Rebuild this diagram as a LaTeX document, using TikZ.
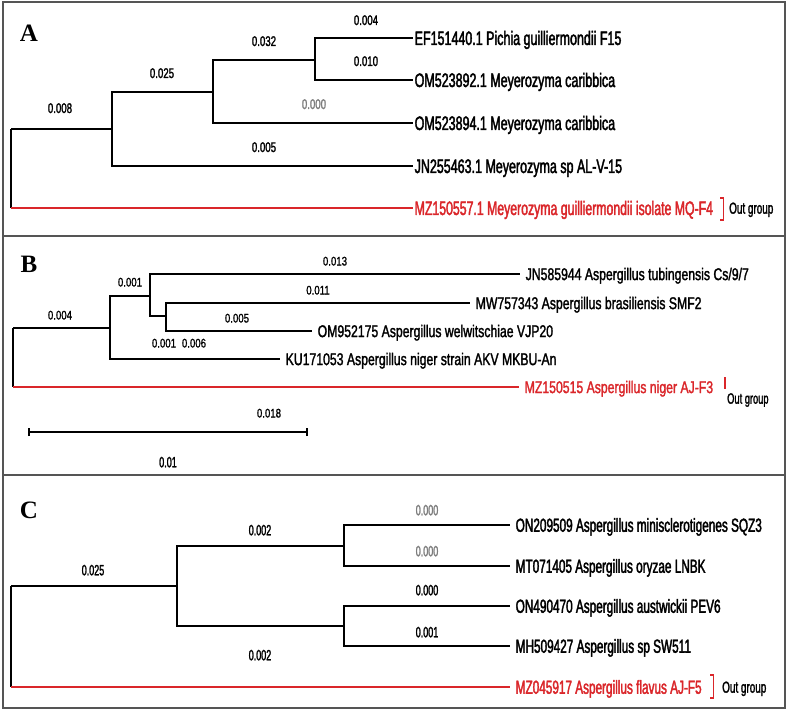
\documentclass[tikz,border=0pt]{standalone}
\usepackage{fontspec}
\setmainfont{Liberation Sans}
\newfontfamily\tfA[FakeStretch=0.64,FakeBold=2.0]{Liberation Sans}
\newfontfamily\tfAr[FakeStretch=0.63,FakeBold=2.0]{Liberation Sans}
\newfontfamily\tfB[FakeStretch=0.72,FakeBold=1.6]{Liberation Sans}
\newfontfamily\tfC[FakeStretch=0.62,FakeBold=2.0]{Liberation Sans}
\newfontfamily\bfA[FakeStretch=0.69,FakeBold=1.6]{Liberation Sans}
\newfontfamily\bfB[FakeStretch=0.77,FakeBold=1.2]{Liberation Sans}
\newfontfamily\bfC[FakeStretch=0.60,FakeBold=1.6]{Liberation Sans}
\newfontfamily\ogf[FakeStretch=0.62,FakeBold=1.6]{Liberation Sans}
\newfontfamily\serifpanel{Liberation Serif}
\definecolor{treered}{RGB}{218,38,42}
\definecolor{lblgray}{RGB}{125,125,125}
\definecolor{framegray}{RGB}{85,85,85}
\tikzset{
  frameline/.style={draw=framegray, line width=1.4pt},
  brA/.style={black, line width=1.8pt},
  brB/.style={black, line width=1.5pt},
  redA/.style={treered, line width=1.8pt},
  redB/.style={treered, line width=1.5pt},
  bracket/.style={treered, line width=1.2pt},
  plab/.style={font=\serifpanel\bfseries\fontsize{25}{25}\selectfont, inner sep=0pt},
  tipA/.style={anchor=west, inner ysep=0pt, inner xsep=1.5pt, font=\tfA\fontsize{19.5}{19.5}\selectfont, text height=14pt, text depth=0pt},
  tipAr/.style={tipA, font=\tfAr\fontsize{19.5}{19.5}\selectfont, text=treered},
  tipB/.style={anchor=west, inner ysep=0pt, inner xsep=5.5pt, font=\tfB\fontsize{17}{17}\selectfont, text height=12.2pt, text depth=0pt},
  tipC/.style={anchor=west, inner ysep=0pt, inner xsep=5.5pt, font=\tfC\fontsize{19}{19}\selectfont, text height=13.6pt, text depth=0pt},
  lbA/.style={inner sep=0pt, font=\bfA\fontsize{14}{14}\selectfont, text height=10pt, text depth=0pt},
  lbB/.style={inner sep=0pt, font=\bfB\fontsize{12.5}{12.5}\selectfont, text height=9pt, text depth=0pt},
  lbC/.style={inner sep=0pt, font=\bfC\fontsize{15}{15}\selectfont, text height=10.7pt, text depth=0pt},
  og/.style={anchor=west, inner sep=0pt, font=\ogf\fontsize{16}{16}\selectfont, text height=11.4pt, text depth=0pt},
}
\begin{document}
\begin{tikzpicture}[x=1pt,y=-1pt]
\useasboundingbox (0,0) rectangle (789,711);
% frame
\draw[frameline] (3,2) rectangle (785,708);
\draw[frameline] (3,236) -- (785,236);
\draw[frameline] (3,475) -- (785,475);

% ================= Panel A =================
\node[plab] (pA) at (29,33) {A};
\coordinate (a0) at (11,129);
\coordinate (aR) at (11,208);
\coordinate (a1) at (112,129);
\coordinate (a2) at (213,92);
\coordinate (a3) at (315,60);
\node[tipA] (tA1) at (413,38) {EF151440.1 Pichia guilliermondii F15};
\node[tipA] (tA2) at (413,80) {OM523892.1 Meyerozyma caribbica};
\node[tipA] (tA3) at (413,123) {OM523894.1 Meyerozyma caribbica};
\node[tipA] (tA4) at (413,166) {JN255463.1 Meyerozyma sp AL-V-15};
\node[tipAr] (tA5) at (413,208) {MZ150557.1 Meyerozyma guilliermondii isolate MQ-F4};
\draw[brA] (a0) -- (aR);
\draw[brA] (a0) -- (a1);
\draw[brA] (a1) |- (a2);
\draw[brA] (a1) |- (tA4.west);
\draw[brA] (a2) |- (a3);
\draw[brA] (a2) |- (tA3.west);
\draw[brA] (a3) |- (tA1.west);
\draw[brA] (a3) |- (tA2.west);
\draw[redA] (aR) -- (tA5.west);
\draw[bracket] (720,198) -- (723.5,198) -- (723.5,220) -- (720,220);
\node[og] (ogA) at (729,208) {Out group};
\node[lbA] (lA1) at (60,108) {0.008};
\node[lbA] (lA2) at (162,73) {0.025};
\node[lbA] (lA3) at (264,41) {0.032};
\node[lbA] (lA4) at (366,20) {0.004};
\node[lbA] (lA5) at (366,61) {0.010};
\node[lbA, text=lblgray] (lA6) at (314,104) {0.000};
\node[lbA] (lA7) at (264,147) {0.005};

% ================= Panel B =================
\node[plab] (pB) at (29,264) {B};
\coordinate (b0) at (13,328);
\coordinate (bR) at (13,387);
\coordinate (b1) at (110,328);
\coordinate (b2) at (150,296);
\coordinate (b3) at (166,316);
\node[tipB] (tB1) at (520,274) {JN585944 Aspergillus tubingensis Cs/9/7};
\node[tipB] (tB2) at (470,303) {MW757343 Aspergillus brasiliensis SMF2};
\node[tipB] (tB3) at (312,331) {OM952175 Aspergillus welwitschiae VJP20};
\node[tipB] (tB4) at (280,359) {KU171053 Aspergillus niger strain AKV MKBU-An};
\node[tipB, text=treered] (tB5) at (519,387) {MZ150515 Aspergillus niger AJ-F3};
\draw[brB] (b0) -- (bR);
\draw[brB] (b0) -- (b1);
\draw[brB] (b1) |- (b2);
\draw[brB] (b1) |- (tB4.west);
\draw[brB] (b2) |- (tB1.west);
\draw[brB] (b2) |- (b3);
\draw[brB] (b3) |- (tB2.west);
\draw[brB] (b3) |- (tB3.west);
\draw[redB] (bR) -- (tB5.west);
\draw[bracket] (725,377) -- (725,389);
\node[og, font=\ogf\fontsize{15}{15}\selectfont] (ogB) at (727,398) {Out group};
\node[lbB] (lB1) at (60,315) {0.004};
\node[lbB] (lB2) at (130,282) {0.001};
\node[lbB] (lB3) at (335,261) {0.013};
\node[lbB] (lB4) at (318,290) {0.011};
\node[lbB] (lB5) at (237,318) {0.005};
\node[lbB] (lB6) at (164,343) {0.001};
\node[lbB] (lB7) at (194,343) {0.006};
% scale bar
\coordinate (s1) at (29,432);
\coordinate (s2) at (307,432);
\draw[black, line width=1.3pt] (s1) -- (s2);
\draw[black, line width=1.3pt] ([yshift=-4pt]s1) -- ([yshift=4pt]s1);
\draw[black, line width=1.3pt] ([yshift=-4pt]s2) -- ([yshift=4pt]s2);
\node[lbB] (lB8) at (269,413) {0.018};
\node[lbC] (lB9) at (168,462) {0.01};

% ================= Panel C =================
\node[plab] (pC) at (29,510) {C};
\coordinate (c0) at (11,586);
\coordinate (cR) at (11,687);
\coordinate (c1) at (177,586);
\coordinate (c2) at (344,546);
\coordinate (c3) at (344,626);
\node[tipC] (tC1) at (510,525) {ON209509 Aspergillus minisclerotigenes SQZ3};
\node[tipC] (tC2) at (510,566) {MT071405 Aspergillus oryzae LNBK};
\node[tipC] (tC3) at (510,606) {ON490470 Aspergillus austwickii PEV6};
\node[tipC] (tC4) at (510,646) {MH509427 Aspergillus sp SW511};
\node[tipC, text=treered] (tC5) at (510,687) {MZ045917 Aspergillus flavus AJ-F5};
\draw[brA] (c0) -- (cR);
\draw[brA] (c0) -- (c1);
\draw[brA] (c1) |- (c2);
\draw[brA] (c1) |- (c3);
\draw[brA] (c2) |- (tC1.west);
\draw[brA] (c2) |- (tC2.west);
\draw[brA] (c3) |- (tC3.west);
\draw[brA] (c3) |- (tC4.west);
\draw[redA] (cR) -- (tC5.west);
\draw[bracket] (710,675) -- (713.5,675) -- (713.5,698) -- (710,698);
\node[og] (ogC) at (722,687) {Out group};
\node[lbC] (lC1) at (93,570) {0.025};
\node[lbC] (lC2) at (260,530) {0.002};
\node[lbC] (lC3) at (260,655) {0.002};
\node[lbC, text=lblgray] (lC4) at (427,510) {0.000};
\node[lbC, text=lblgray] (lC5) at (427,551) {0.000};
\node[lbC] (lC6) at (427,590) {0.000};
\node[lbC] (lC7) at (427,632) {0.001};
\end{tikzpicture}
\end{document}
